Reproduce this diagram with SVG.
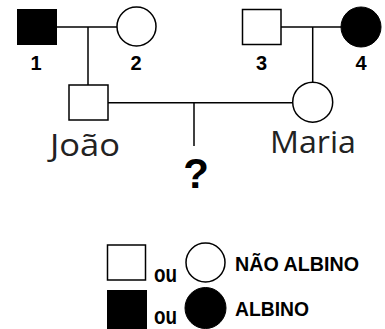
<svg xmlns="http://www.w3.org/2000/svg" width="385" height="329" viewBox="0 0 385 329">
<style>
.ln{stroke:#000;stroke-width:1.5;fill:none}
.open{fill:#fff;stroke:#000;stroke-width:1.5}
.filled{fill:#000;stroke:#000;stroke-width:1}
.num{font-family:"Liberation Sans",Arial,sans-serif;font-weight:bold;font-size:20px;fill:#000;text-anchor:middle}
.name{font-family:"Open Sans","Noto Sans",sans-serif;font-size:31px;fill:#222}
.leg{font-family:"Liberation Sans",Arial,sans-serif;font-weight:bold;fill:#000}
</style>
<rect width="385" height="329" fill="#fff"/>
<g id="connectors">
<line class="ln" x1="57" y1="27" x2="117" y2="27"/>
<line class="ln" x1="88" y1="27" x2="88" y2="85"/>
<line class="ln" x1="281" y1="27" x2="341" y2="27"/>
<line class="ln" x1="312.7" y1="27" x2="312.7" y2="82"/>
<line class="ln" x1="108" y1="102.7" x2="292.7" y2="102.7"/>
<line class="ln" x1="194" y1="102.7" x2="194" y2="146"/>
</g>
<g id="n1">
<rect class="filled" x="17.5" y="9.5" width="39" height="35"/>
<text class="num" x="36" y="70">1</text>
</g>
<g id="n2">
<circle class="open" cx="136.5" cy="26.5" r="19.5"/>
<text class="num" x="136" y="70">2</text>
</g>
<g id="n3">
<rect class="open" x="242.5" y="9.5" width="38.5" height="35"/>
<text class="num" x="261.5" y="70">3</text>
</g>
<g id="n4">
<circle class="filled" cx="361" cy="27" r="20"/>
<text class="num" x="361" y="70">4</text>
</g>
<g id="joao">
<rect class="open" x="69" y="85" width="39" height="35"/>
<text class="name" x="50" y="156" textLength="70" lengthAdjust="spacingAndGlyphs">João</text>
</g>
<g id="maria">
<circle class="open" cx="312.7" cy="102.2" r="20"/>
<text class="name" x="270" y="153" textLength="86" lengthAdjust="spacingAndGlyphs">Maria</text>
</g>
<g id="child">
<text class="leg" x="196" y="188" font-size="42" text-anchor="middle">?</text>
</g>
<g id="legend">
<rect class="open" x="107.5" y="245" width="38" height="35"/>
<text class="leg" x="154" y="281.5" font-size="23" textLength="23" lengthAdjust="spacingAndGlyphs">ou</text>
<circle class="open" cx="205.5" cy="262.5" r="19.5"/>
<text class="leg" x="235" y="270.5" font-size="19.5" textLength="124" lengthAdjust="spacingAndGlyphs">NÃO ALBINO</text>
<rect class="filled" x="107.5" y="290.5" width="39" height="38"/>
<text class="leg" x="154" y="324" font-size="23" textLength="23" lengthAdjust="spacingAndGlyphs">ou</text>
<circle class="filled" cx="205.5" cy="308" r="20.5"/>
<text class="leg" x="235" y="316" font-size="19.5" textLength="74" lengthAdjust="spacingAndGlyphs">ALBINO</text>
</g>
</svg>
